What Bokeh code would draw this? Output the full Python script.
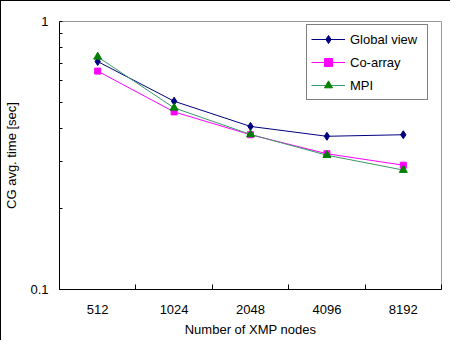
from bokeh.plotting import figure
from bokeh.models import FixedTicker, Legend, LegendItem
from bokeh.embed import file_html
from bokeh.resources import INLINE

categories = ["512", "1024", "2048", "4096", "8192"]
global_view = [0.709, 0.504, 0.406, 0.373, 0.378]
co_array = [0.653, 0.460, 0.378, 0.321, 0.291]
mpi = [0.738, 0.476, 0.379, 0.317, 0.279]
y_ticks = [0.1, 1]
y_tick_labels = ["0.1", "1"]
y_minor = [0.2, 0.3, 0.4, 0.5, 0.6, 0.7, 0.8, 0.9]

xs = [i + 0.5 for i in range(len(categories))]
FONT = "Liberation Sans"

p = figure(width=450, height=340, y_axis_type="log", y_range=(0.1, 1),
           x_range=(0, len(categories)), output_backend="svg", toolbar_location=None,
           min_border_left=56, min_border_right=10, min_border_top=20, min_border_bottom=52)
p.styles = {"border-left": "1px solid black", "border-top": "1px solid black"}
p.xgrid.visible = False
p.ygrid.visible = False
p.outline_line_color = "#9a9a9a"
p.outline_line_width = 1

# x axis
p.xaxis.ticker = FixedTicker(ticks=xs, minor_ticks=list(range(len(categories) + 1)))
p.xaxis.major_label_overrides = {x: c for x, c in zip(xs, categories)}
p.xaxis.major_tick_in = 0
p.xaxis.major_tick_out = 0
p.xaxis.minor_tick_in = 5
p.xaxis.minor_tick_out = 0
p.xaxis.major_label_standoff = 15
p.xaxis.axis_label = "Number of XMP nodes"
p.xaxis.axis_label_standoff = 5

# y axis
p.yaxis.ticker = FixedTicker(ticks=y_ticks, minor_ticks=y_minor)
p.yaxis.major_label_overrides = {t: l for t, l in zip(y_ticks, y_tick_labels)}
p.yaxis.major_tick_in = 3
p.yaxis.major_tick_out = 0
p.yaxis.minor_tick_in = 3
p.yaxis.minor_tick_out = 0
p.yaxis.major_label_standoff = 11
p.yaxis.axis_label = "CG avg. time [sec]"
p.yaxis.axis_label_standoff = 8

for ax in (p.xaxis[0], p.yaxis[0]):
    ax.axis_line_color = "black"
    ax.major_tick_line_color = "black"
    ax.minor_tick_line_color = "black"
    ax.major_label_text_font = FONT
    ax.major_label_text_font_size = "13px"
    ax.major_label_text_color = "black"
    ax.axis_label_text_font = FONT
    ax.axis_label_text_font_size = "13px"
    ax.axis_label_text_font_style = "normal"
    ax.axis_label_text_color = "black"

series = [
    ("Global view", global_view, "#000080", "#000080", "diamond", 8),
    ("Co-array", co_array, "#ff00ff", "#ff00ff", "square", 6),
    ("MPI", mpi, "#3a9a6a", "#008000", "triangle", 8),
]
items = []
for name, vals, lc, mc, marker, size in series:
    r1 = p.line(xs, vals, line_color=lc, line_width=1)
    r2 = p.scatter(xs, vals, marker=marker, size=size, fill_color=mc, line_color=mc)
    items.append(LegendItem(label=name, renderers=[r1, r2]))

legend = Legend(items=items, location=(247, 189), padding=4, spacing=3,
                glyph_width=34, glyph_height=20, label_height=20, label_width=73,
                label_standoff=5, border_line_color="black", border_line_width=1,
                background_fill_color="white", background_fill_alpha=1,
                label_text_font=FONT, label_text_font_size="13px", label_text_color="black",
                margin=0)
p.add_layout(legend, "center")

open("out.html", "w").write(file_html(p, INLINE))
